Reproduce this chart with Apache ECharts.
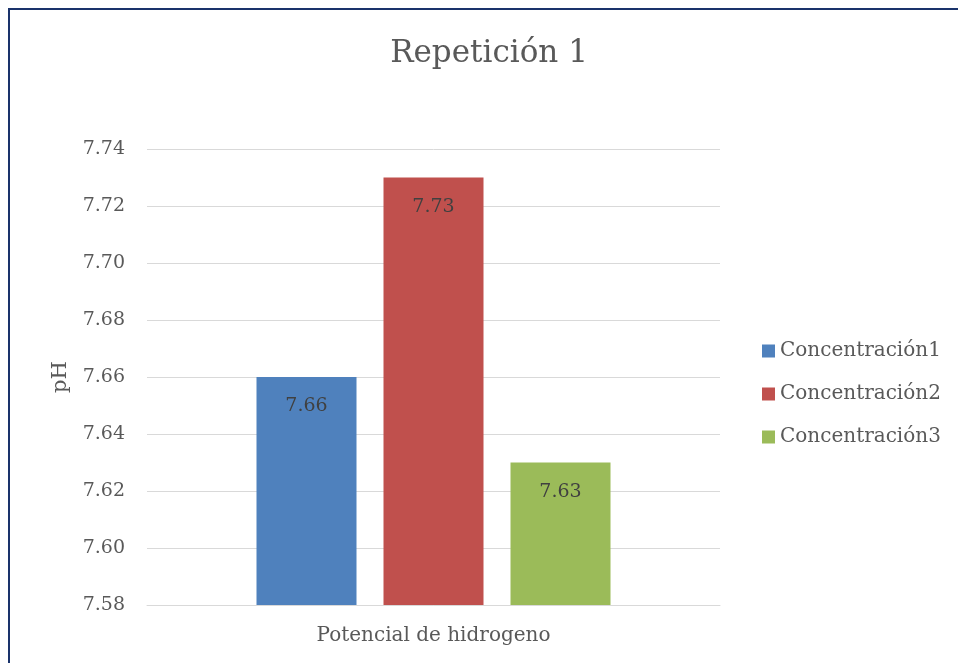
<!DOCTYPE html>
<html>
<head>
<meta charset="utf-8">
<script src="https://cdn.jsdelivr.net/npm/echarts@6/dist/echarts.min.js"></script>
<style>
html,body{margin:0;padding:0;background:#fff;overflow:hidden;}
#frame{position:absolute;left:8px;top:8px;width:1000px;height:700px;border-left:2px solid #1a336b;border-top:2px solid #1a336b;box-sizing:border-box;}
#chart{position:absolute;left:0;top:0;width:958px;height:663px;}
</style>
</head>
<body>
<div id="frame"></div>
<div id="chart"></div>
<script>
const titleText = 'Repetición 1';
const categories = ['Potencial de hidrogeno'];
const seriesNames = ['Concentración1', 'Concentración2', 'Concentración3'];
const seriesValues = [[7.66], [7.73], [7.63]];
const seriesColors = ['#4f81bd', '#c0504d', '#9bbb59'];
const yName = 'pH';
const yMin = 7.58, yMax = 7.74, yInterval = 0.02;

const FONT = 'DejaVu Serif';
const TXT = '#595959';

const chart = echarts.init(document.getElementById('chart'), null, {renderer: 'canvas'});
chart.setOption({
  backgroundColor: 'transparent',
  animation: false,
  title: {
    text: titleText,
    top: 33,
    left: 484,
    textAlign: 'center',
    textStyle: {fontFamily: FONT, fontSize: 31, fontWeight: 'normal', color: TXT}
  },
  legend: {
    orient: 'vertical',
    left: 762,
    top: 341,
    padding: 0,
    itemWidth: 13,
    itemHeight: 13,
    itemGap: 23,
    icon: 'rect',
    textStyle: {fontFamily: FONT, fontSize: 20, color: TXT},
    data: seriesNames
  },
  grid: {left: 147, right: 238, top: 149, bottom: 58, containLabel: false},
  xAxis: {
    type: 'category',
    data: categories,
    axisLine: {lineStyle: {color: '#d9d9d9', width: 1}},
    axisTick: {show: false},
    axisLabel: {fontFamily: FONT, fontSize: 20, color: TXT, margin: 21}
  },
  yAxis: {
    type: 'value',
    min: yMin, max: yMax, interval: yInterval,
    name: yName,
    nameLocation: 'middle',
    nameGap: 76,
    nameRotate: 90,
    nameTextStyle: {fontFamily: FONT, fontSize: 21, color: TXT},
    axisLine: {show: false},
    axisTick: {show: false},
    splitLine: {lineStyle: {color: '#d9d9d9', width: 1}},
    axisLabel: {fontFamily: FONT, fontSize: 19, color: TXT, margin: 22,
      formatter: v => v.toFixed(2)}
  },
  series: seriesNames.map((n, i) => ({
    name: n,
    type: 'bar',
    data: seriesValues[i],
    barWidth: 100,
    barGap: '27%',
    itemStyle: {color: seriesColors[i]},
    label: {
      show: true,
      position: 'insideTop',
      distance: 20,
      fontFamily: FONT,
      fontSize: 19,
      color: '#404040',
      formatter: p => p.value.toFixed(2)
    }
  }))
});
</script>
</body>
</html>
